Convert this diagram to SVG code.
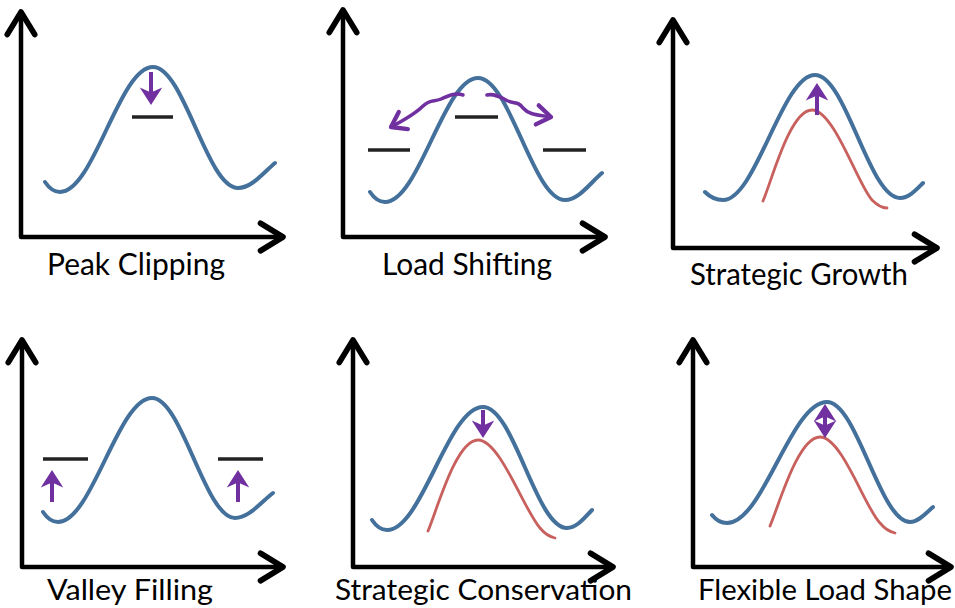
<svg xmlns="http://www.w3.org/2000/svg" width="955" height="608" viewBox="0 0 955 608">
  <defs>
    <!-- open chevron head for the axes -->
    <marker id="axisHead" markerUnits="userSpaceOnUse" markerWidth="40" markerHeight="40" viewBox="-24 -16 30 32" refX="0" refY="0" orient="auto-start-reverse" overflow="visible">
      <path d="M-18,-11 L0,0 L-18,11" fill="none" stroke="#000" stroke-width="4.5" stroke-linecap="round" stroke-linejoin="round"/>
    </marker>
    <!-- solid purple head for change arrows -->
    <marker id="purpleHead" markerUnits="userSpaceOnUse" markerWidth="30" markerHeight="30" viewBox="-10 -12 22 24" refX="0" refY="0" orient="auto-start-reverse" overflow="visible">
      <path d="M8,0 L-6,-9 L-2,0 L-6,9 Z" fill="#7030a0"/>
    </marker>
    <!-- open purple head for shifting arrows -->
    <marker id="purpleOpen" markerUnits="userSpaceOnUse" markerWidth="30" markerHeight="30" viewBox="-16 -14 20 28" refX="0" refY="0" orient="auto" overflow="visible">
      <path d="M-13,-9 L0,0 L-13,9" fill="none" stroke="#7030a0" stroke-width="4" stroke-linecap="round" stroke-linejoin="round"/>
    </marker>
  </defs>
  <style>
    .axis { fill: none; stroke: #000; stroke-width: 4.5; stroke-linejoin: round; marker-start: url(#axisHead); marker-end: url(#axisHead); }
    .load { fill: none; stroke: #44709c; stroke-width: 4; stroke-linecap: round; }
    .new { fill: none; stroke: #c8605e; stroke-width: 2.8; stroke-linecap: round; }
    .level { stroke: #222; stroke-width: 3.5; }
    .shift { fill: none; stroke: #7030a0; stroke-width: 4; marker-end: url(#purpleHead); }
    .wave { fill: none; stroke: #7030a0; stroke-width: 3.5; stroke-linecap: round; marker-end: url(#purpleOpen); }
    .label { font-family: Lato, "Liberation Sans", sans-serif; font-size: 30px; fill: #000; }
    .low { font-size: 29px; }
  </style>
  <rect width="955" height="608" fill="#fff"/>

  <g id="peak-clipping">
    <path class="axis" d="M21,12 L21,237 L283,237"/>
    <path class="load" d="M45,182 C49,188 54,192 60,192 C94,192 119,67 153,67 C184,67 207,188 238,188 C252,188 264,172 275,163"/>
    <line class="level" x1="132" y1="117" x2="173" y2="117"/>
    <path class="shift" d="M151,72 L151,95"/>
    <text class="label" x="47" y="275" textLength="178" lengthAdjust="spacingAndGlyphs">Peak Clipping</text>
  </g>

  <g id="load-shifting">
    <path class="axis" d="M343,10 L343,237 L605,237"/>
    <path class="load" d="M370,192 C374,198 379,202 385,202 C419,202 444,78 478,78 C510,78 533,200 565,200 C579,200 591,182 602,173"/>
    <line class="level" x1="455" y1="117" x2="498" y2="117"/>
    <line class="level" x1="368" y1="150" x2="410" y2="150"/>
    <line class="level" x1="543" y1="150" x2="586" y2="150"/>
    <path class="wave" d="M463,95 C455,92 448,96 441,99 C434,102 430,99 423,106 C416,113 408,118 391,127"/>
    <path class="wave" d="M487,95 C495,93 502,98 508,101 C515,104 518,101 523,108 C529,115 538,115 551,117"/>
    <text class="label" x="382" y="275" textLength="170" lengthAdjust="spacingAndGlyphs">Load Shifting</text>
  </g>

  <g id="strategic-growth">
    <path class="axis" d="M673,20 L673,248 L937,248"/>
    <path class="load" d="M705,192 C710,197 716,200 723,200 C756,200 782,75 815,75 C846,75 869,198 900,198 C909,198 917,189 923,183"/>
    <path class="new" d="M763,201 C772,180 790,110 812,110 C834,110 858,185 872,200 C877,205 882,208 887,208"/>
    <path class="shift" d="M817,115 L817,93"/>
    <text class="label" x="690" y="285" textLength="218" lengthAdjust="spacingAndGlyphs">Strategic Growth</text>
  </g>

  <g id="valley-filling">
    <path class="axis" d="M22,340 L22,567 L283,567"/>
    <path class="load" d="M43,512 C47,518 52,522 58,522 C92,522 118,398 152,398 C182,398 205,518 235,518 C249,518 261,502 273,493"/>
    <line class="level" x1="43" y1="459" x2="88" y2="459"/>
    <line class="level" x1="218" y1="459" x2="263" y2="459"/>
    <path class="shift" d="M52,502 L52,480"/>
    <path class="shift" d="M238,502 L238,480"/>
    <text class="label low" x="47" y="600" textLength="166" lengthAdjust="spacingAndGlyphs">Valley Filling</text>
  </g>

  <g id="strategic-conservation">
    <path class="axis" d="M353,340 L353,567 L613,567"/>
    <path class="load" d="M372,520 C376,526 381,530 387,530 C422,530 448,407 483,407 C514,407 536,528 567,528 C577,528 585,517 592,510"/>
    <path class="new" d="M428,531 C437,510 456,440 478,440 C500,440 524,510 540,528 C545,534 550,537 555,538"/>
    <path class="shift" d="M483,410 L483,428"/>
    <text class="label low" x="335" y="600" textLength="297" lengthAdjust="spacingAndGlyphs">Strategic Conservation</text>
  </g>

  <g id="flexible-load-shape">
    <path class="axis" d="M693,340 L693,567 L951,567"/>
    <path class="load" d="M712,515 C716,520 721,523 727,523 C763,523 791,402 827,402 C857,402 880,522 910,522 C919,522 927,512 933,507"/>
    <path class="new" d="M770,526 C779,505 798,437 820,437 C842,437 865,508 880,523 C885,529 890,532 895,533"/>
    <path class="shift" style="marker-start:url(#purpleHead)" d="M825,414 L825,428"/>
    <text class="label low" x="698" y="600" textLength="254" lengthAdjust="spacingAndGlyphs">Flexible Load Shape</text>
  </g>
</svg>
